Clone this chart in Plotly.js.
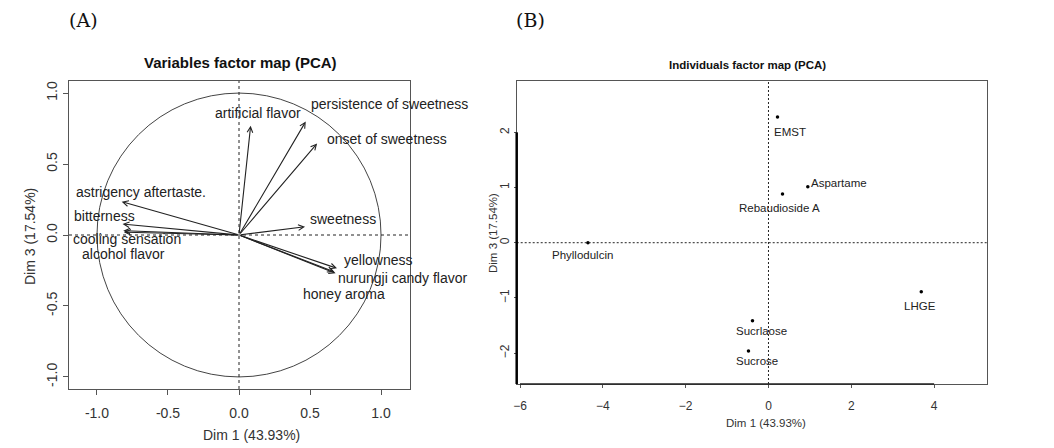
<!DOCTYPE html>
<html>
<head>
<meta charset="utf-8">
<script src="https://cdn.plot.ly/plotly-3.0.1.min.js"></script>
<style>html,body{margin:0;padding:0;background:#fff;}#chart{width:1054px;height:448px;}</style>
</head>
<body>
<div id="chart"></div>
<script>
// ---- Data: variables factor map (PCA), Dim 1 vs Dim 3 ----
const varNames = ["artificial flavor", "persistence of sweetness", "onset of sweetness",
  "astrigency aftertaste.", "bitterness", "sweetness", "cooling sensation",
  "alcohol flavor", "yellowness", "nurungji candy flavor", "honey aroma"];
const varDim1 = [0.082, 0.47, 0.55, -0.826, -0.82, 0.465, -0.815, -0.81, 0.69, 0.68, 0.67];
const varDim3 = [0.77, 0.80, 0.645, 0.235, 0.077, 0.058, 0.03, 0.02, -0.235, -0.27, -0.26];

// ---- Data: individuals factor map (PCA) ----
const indNames = ["EMST", "Aspartame", "Rebaudioside A", "Phyllodulcin", "LHGE", "Sucrlaose", "Sucrose"];
const indDim1 = [0.218, 0.95, 0.339, -4.36, 3.69, -0.386, -0.483];
const indDim3 = [2.276, 1.016, 0.884, 0.0, -0.889, -1.416, -1.96];

// ---- Tick labels ----
const varTicks = [-1.0, -0.5, 0.0, 0.5, 1.0];
const varTickText = ["-1.0", "-0.5", "0.0", "0.5", "1.0"];
const indXTicks = [-6, -4, -2, 0, 2, 4];
const indYTicks = [-2, -1, 0, 1, 2];

// ---- Label placement (layout, in data units) ----
const varLabelPos = [[0.136, 0.857], [1.063, 0.92], [1.04, 0.674], [-0.692, 0.305], [-0.948, 0.136],
  [0.735, 0.113], [-0.79, -0.03], [-0.815, -0.134], [0.977, -0.176], [1.158, -0.305], [0.742, -0.418]];
const indLabelPos = [[0.524, 2.015], [1.708, 1.078], [0.267, 0.624], [-4.48, -0.23], [3.66, -1.15],
  [-0.16, -1.597], [-0.28, -2.14]];

const W = 1054, H = 448;
const px = v => v / W, py = v => 1 - v / H;

const leftFont = "Liberation Sans, Arial, sans-serif";
const rightFont = "Liberation Sans, Arial, sans-serif";

const traces = [
  {
    type: "scatter", mode: "markers", x: indDim1, y: indDim3, xaxis: "x2", yaxis: "y2",
    marker: {color: "#000", size: 3.5}, hoverinfo: "text", text: indNames, showlegend: false
  },
  {
    type: "scatter", mode: "markers", x: varDim1, y: varDim3, xaxis: "x", yaxis: "y",
    marker: {color: "rgba(0,0,0,0)", size: 1}, hoverinfo: "text", text: varNames, showlegend: false
  }
];

const annotations = [];
// arrows for variables
varNames.forEach((n, i) => {
  annotations.push({
    xref: "x", yref: "y", axref: "x", ayref: "y",
    x: varDim1[i], y: varDim3[i], ax: 0, ay: 0,
    showarrow: true, arrowhead: 5, arrowsize: 1, arrowwidth: 1.1, arrowcolor: "#222", text: ""
  });
  annotations.push({
    xref: "x", yref: "y", x: varLabelPos[i][0], y: varLabelPos[i][1], text: n, showarrow: false,
    xanchor: "center", yanchor: "middle", font: {family: leftFont, size: 14, color: "#222"}
  });
});
indNames.forEach((n, i) => {
  annotations.push({
    xref: "x2", yref: "y2", x: indLabelPos[i][0], y: indLabelPos[i][1], text: n, showarrow: false,
    xanchor: "center", yanchor: "middle", font: {family: rightFont, size: 11.5, color: "#222"}
  });
});
// titles & panel labels
annotations.push(
  {xref: "paper", yref: "paper", x: px(240), y: py(62), text: "<b>Variables factor map (PCA)</b>", showarrow: false,
   xanchor: "center", yanchor: "middle", font: {family: leftFont, size: 15, color: "#111"}},
  {xref: "paper", yref: "paper", x: px(747), y: py(65), text: "<b>Individuals factor map (PCA)</b>", showarrow: false,
   xanchor: "center", yanchor: "middle", font: {family: rightFont, size: 11.5, color: "#111"}},
  {xref: "paper", yref: "paper", x: px(251), y: py(435), text: "Dim 1 (43.93%)", showarrow: false,
   xanchor: "center", yanchor: "middle", font: {family: leftFont, size: 14, color: "#333"}},
  {xref: "paper", yref: "paper", x: px(30), y: py(237), text: "Dim 3 (17.54%)", showarrow: false, textangle: -90,
   xanchor: "center", yanchor: "middle", font: {family: leftFont, size: 14, color: "#333"}},
  {xref: "paper", yref: "paper", x: px(766), y: py(423), text: "Dim 1 (43.93%)", showarrow: false,
   xanchor: "center", yanchor: "middle", font: {family: rightFont, size: 11.5, color: "#333"}},
  {xref: "paper", yref: "paper", x: px(493), y: py(233), text: "Dim 3 (17.54%)", showarrow: false, textangle: -90,
   xanchor: "center", yanchor: "middle", font: {family: rightFont, size: 11.5, color: "#333"}},
  {xref: "paper", yref: "paper", x: px(83), y: py(20), text: "(A)", showarrow: false,
   xanchor: "center", yanchor: "middle", font: {family: "DejaVu Serif, Liberation Serif, serif", size: 19, color: "#111"}},
  {xref: "paper", yref: "paper", x: px(530), y: py(20), text: "(B)", showarrow: false,
   xanchor: "center", yanchor: "middle", font: {family: "DejaVu Serif, Liberation Serif, serif", size: 19, color: "#111"}}
);

const shapes = [
  {type: "circle", xref: "x", yref: "y", x0: -1, y0: -1, x1: 1, y1: 1, line: {color: "#444", width: 1}},
  {type: "line", xref: "x", yref: "y domain", x0: 0, x1: 0, y0: 0, y1: 1, line: {color: "#222", width: 1, dash: "3px,3px"}},
  {type: "line", xref: "x domain", yref: "y", x0: 0, x1: 1, y0: 0, y1: 0, line: {color: "#222", width: 1, dash: "3px,3px"}},
  {type: "line", xref: "x2", yref: "y2 domain", x0: 0, x1: 0, y0: 0, y1: 1, line: {color: "#222", width: 1, dash: "2px,2px"}},
  {type: "line", xref: "x2 domain", yref: "y2", x0: 0, x1: 1, y0: 0, y1: 0, line: {color: "#222", width: 1, dash: "2px,2px"}},
  {type: "line", xref: "x2 domain", yref: "y2", x0: 0, x1: 0, y0: -2.56, y1: 2.0, line: {color: "#000", width: 2.5}},
  {type: "line", xref: "x2", yref: "y2 domain", x0: -6, x1: 4, y0: 0, y1: 0, line: {color: "#222", width: 1.6}}
];

const axBase = {showgrid: false, zeroline: false, showline: true, mirror: true, linecolor: "#555", linewidth: 1.2,
  ticks: "outside", ticklen: 5, tickcolor: "#555", tickwidth: 1};

const layout = {
  width: W, height: H, margin: {l: 0, r: 0, t: 0, b: 0}, paper_bgcolor: "#fff", plot_bgcolor: "#fff",
  showlegend: false,
  xaxis: Object.assign({}, axBase, {domain: [px(69), px(410)], range: [-1.197, 1.204], tickvals: varTicks, ticktext: varTickText,
    tickfont: {family: leftFont, size: 14, color: "#333"}, ticklabelstandoff: 6, anchor: "y"}),
  yaxis: Object.assign({}, axBase, {domain: [py(389), py(81)], range: [-1.085, 1.085], tickvals: varTicks, ticktext: varTickText,
    tickangle: -90, tickfont: {family: leftFont, size: 14, color: "#333"}, ticklabelstandoff: 0, anchor: "x"}),
  xaxis2: Object.assign({}, axBase, {domain: [px(516.7), px(986.7)], range: [-6.08, 5.27], tickvals: indXTicks,
    ticklen: 3, tickfont: {family: rightFont, size: 12, color: "#333"}, ticklabelstandoff: 7, anchor: "y2"}),
  yaxis2: Object.assign({}, axBase, {domain: [py(384), py(81)], range: [-2.56, 2.93], tickvals: indYTicks,
    ticklen: 2, tickangle: -90, tickfont: {family: rightFont, size: 12, color: "#333"}, ticklabelstandoff: 0, anchor: "x2"}),
  annotations: annotations,
  shapes: shapes
};

Plotly.newPlot("chart", traces, layout, {displayModeBar: false, staticPlot: true});
</script>
</body>
</html>
